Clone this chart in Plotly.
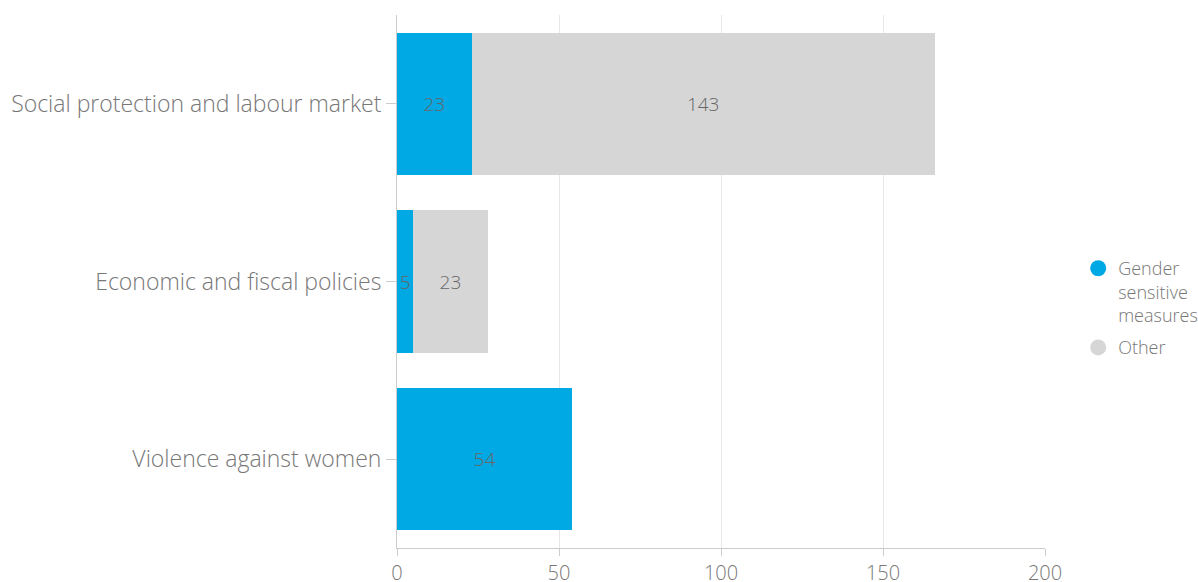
import plotly.graph_objects as go

categories = ["Social protection and labour market", "Economic and fiscal policies", "Violence against women"]
gender_sensitive = [23, 5, 54]
other = [143, 23, None]
x_ticks = [0, 50, 100, 150, 200]
legend_names = ["Gender<br>sensitive<br>measures", "Other"]

BLUE = "#00A8E4"
GREY = "#D6D6D6"
FONT = "Open Sans"
TXT = "#777777"

fig = go.Figure()
fig.add_trace(go.Bar(
    y=categories, x=gender_sensitive, orientation="h", marker_color=BLUE,
    marker_line_width=0,
    text=gender_sensitive, textposition="inside", insidetextanchor="middle",
    constraintext="none",
    textfont=dict(color="#666666", size=19, family=FONT, weight=300),
    showlegend=False, name="Gender sensitive measures"))
fig.add_trace(go.Bar(
    y=categories, x=other, orientation="h", marker_color=GREY,
    marker_line_width=0,
    text=other, textposition="inside", insidetextanchor="middle",
    constraintext="none",
    textfont=dict(color="#666666", size=19, family=FONT, weight=300),
    showlegend=False, name="Other"))
for nm, col in zip(legend_names, [BLUE, GREY]):
    fig.add_trace(go.Scatter(x=[None], y=[None], mode="markers",
                             marker=dict(symbol="circle", size=18, color=col),
                             name=nm, legendgroup=nm))

fig.update_layout(
    width=1198, height=582,
    barmode="stack", bargap=0.2,
    plot_bgcolor="white", paper_bgcolor="white",
    margin=dict(l=397, r=153, t=15, b=34),
    font=dict(family=FONT, color=TXT, weight=300),
    legend=dict(xref="container", yref="container", x=0.90, y=0.5704,
                yanchor="top", xanchor="left",
                font=dict(size=18, color=TXT, family=FONT, weight=300),
                itemsizing="trace", tracegroupgap=6, traceorder="grouped",
                valign="top"),
    uniformtext=dict(mode=False),
)
fig.update_xaxes(range=[0, 200], tickvals=x_ticks, showgrid=True, gridcolor="#E6E6E6",
                 showline=True, linecolor="#CCCCCC", ticks="outside", ticklen=7,
                 tickcolor="#CCCCCC", tickfont=dict(size=20, color=TXT, family=FONT, weight=300),
                 zeroline=False, automargin=False)
fig.update_yaxes(categoryorder="array", categoryarray=categories[::-1],
                 showline=True, linecolor="#CCCCCC", ticks="outside", ticklen=10,
                 tickcolor="#CCCCCC", tickfont=dict(size=23, color=TXT, family=FONT, weight=300),
                 showgrid=False, automargin=False)

fig.write_html("out.html", config={"displayModeBar": False},
               post_script="document.body.style.margin='0px';")
